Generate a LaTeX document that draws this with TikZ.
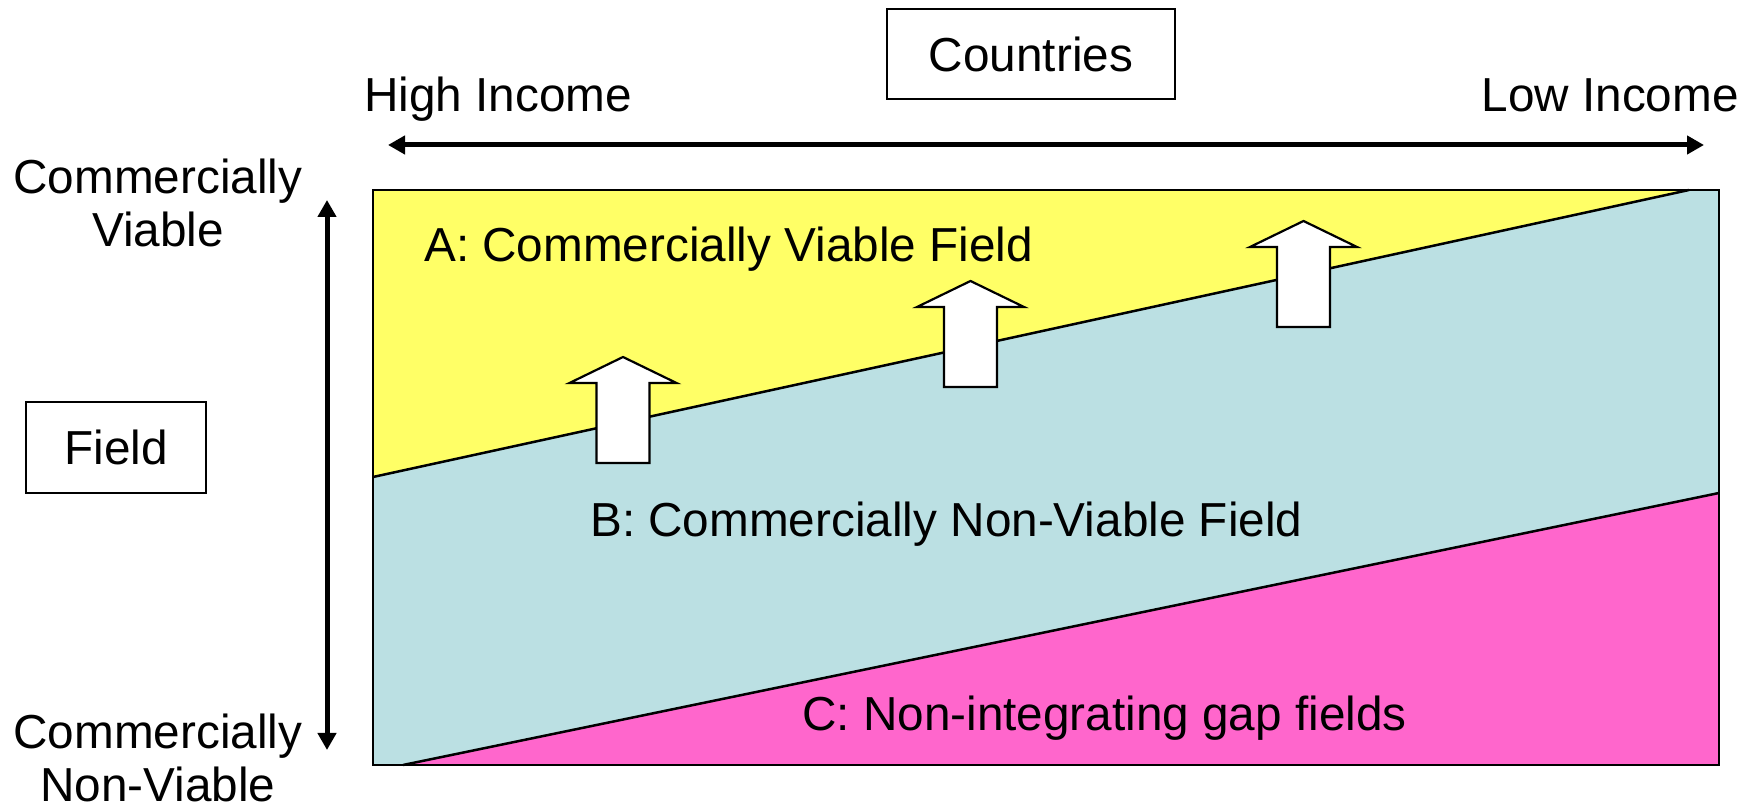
\documentclass[tikz,border=0pt]{standalone}
\usepackage{fontspec}
\setmainfont{Liberation Sans}
\usetikzlibrary{arrows.meta}
\definecolor{zoneA}{HTML}{FFFF66}
\definecolor{zoneB}{HTML}{BBE0E3}
\definecolor{zoneC}{HTML}{FF66CC}
\tikzset{
  lbl/.style={inner sep=0pt, font=\fontsize{47.7bp}{53bp}\selectfont},
  labelbox/.style={lbl, draw=black, line width=2bp, text height=34.2bp, text depth=0pt},
  axisarrow/.style={line width=5bp, {Triangle[length=17bp,width=18bp]}-{Triangle[length=17bp,width=18bp]}},
  divider/.style={line width=2.5bp, black},
  blockarrow/.style={draw=black, fill=white, line width=2.2bp, line join=miter},
  uparrow/.pic={\path[blockarrow] (-26.5,0) -- (26.5,0) -- (26.5,80) -- (53.5,80) -- (0,106) -- (-53.5,80) -- (-26.5,80) -- cycle;}
}
\begin{document}
\begin{tikzpicture}[x=1bp,y=1bp]
\useasboundingbox (0,0) rectangle (1757,806);
% field zones
\fill[zoneB] (373,41) rectangle (1719,616);
\fill[zoneA] (373,616) -- (1689,616) -- (373,329) -- cycle;
\fill[zoneC] (403,41) -- (1719,313) -- (1719,41) -- cycle;
\coordinate (ab1) at (373,329);
\coordinate (ab2) at (1689,616);
\coordinate (bc1) at (403,41);
\coordinate (bc2) at (1719,313);
\draw[divider] (ab1) -- (ab2);
\draw[divider] (bc1) -- (bc2);
\draw[line width=2.5bp] (373,41) rectangle (1719,616);
% upward block arrows
\pic at (623,343) {uparrow};
\pic at (970.5,419) {uparrow};
\pic at (1303.5,479) {uparrow};
% zone labels
\node[lbl, anchor=base west] (za) at (424,544) {A: Commercially Viable Field};
\node[lbl, anchor=base west] (zb) at (590,269) {B: Commercially Non-Viable Field};
\node[lbl, anchor=base west] (zc) at (802,75) {C: Non-integrating gap fields};
% horizontal axis
\node[labelbox, minimum width=288bp, minimum height=90bp] (countries) at (1031,752) {Countries};
\node[lbl, anchor=base west] (high) at (364,694) {High Income};
\node[lbl, anchor=base east] (low) at (1739,694) {Low Income};
\coordinate (hl) at (388,661);
\coordinate (hr) at (1704,661);
\draw[axisarrow] (hl) -- (hr);
% vertical axis
\node[labelbox, minimum width=180bp, minimum height=91bp] (field) at (116,358.5) {Field};
\node[lbl, anchor=base, align=center] (cv) at (158,559) {Commercially\\Viable};
\node[lbl, anchor=base, align=center, text depth=0pt] (cnv) at (158,4) {Commercially\\Non-Viable};
\coordinate (vt) at (327,606);
\coordinate (vb) at (327,56);
\draw[axisarrow] (vt) -- (vb);
\end{tikzpicture}
\end{document}
